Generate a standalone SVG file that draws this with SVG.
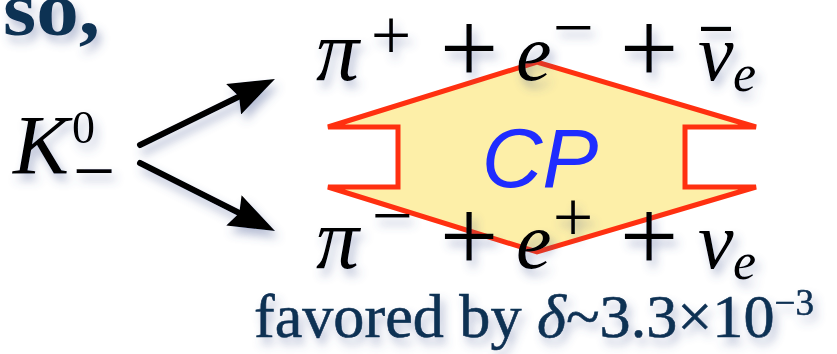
<svg xmlns="http://www.w3.org/2000/svg" width="837" height="354" viewBox="0 0 837 354">
<defs>
<filter id="sh" x="-20%" y="-30%" width="150%" height="170%">
<feGaussianBlur in="SourceAlpha" stdDeviation="5"/>
<feOffset dx="4" dy="7" result="b"/>
<feFlood flood-color="#4a5c94" flood-opacity="0.4"/>
<feComposite in2="b" operator="in"/>
<feMerge><feMergeNode/><feMergeNode in="SourceGraphic"/></feMerge>
</filter>
<marker id="ah" viewBox="0 0 46 34" refX="21" refY="17" markerWidth="46" markerHeight="34" markerUnits="userSpaceOnUse" orient="auto">
<path d="M0,0 L46,17 L0,34 L6,17 z" fill="#000"/>
</marker>
</defs>
<style>
.m{font-family:"Liberation Serif",serif;fill:#000}
.i{font-style:italic}
.op{text-anchor:middle}
.navy{font-family:"Liberation Serif",serif;fill:#0b3053}
.arr{stroke:#000;stroke-width:6;stroke-linecap:round;fill:none}
</style>
<rect width="837" height="354" fill="#fff"/>
<text class="navy" x="3" y="35" font-size="78" font-weight="bold" textLength="97" lengthAdjust="spacingAndGlyphs" filter="url(#sh)">so,</text>
<g id="kaon" filter="url(#sh)">
<text class="m i" x="13" y="174" font-size="84">K</text>
<text class="m" x="72" y="143" font-size="46">0</text>
<text class="m op" x="94" y="196" font-size="75">−</text>
</g>
<g id="connectors" filter="url(#sh)">
<line class="arr" x1="140" y1="145" x2="252.5" y2="90" marker-end="url(#ah)"/>
<line class="arr" x1="140" y1="163" x2="252.7" y2="219.8" marker-end="url(#ah)"/>
</g>
<g id="cp">
<polygon points="328,127 537,62 756,127 685,127 685,187 756,187 537,252 328,187 398,187 398,127" fill="#fdefa8" stroke="#ff3010" stroke-width="5" stroke-linejoin="miter"/>
<text x="540" y="187" font-family="Liberation Sans, Arial, sans-serif" font-style="italic" font-size="84" fill="#1f2cff" text-anchor="middle">CP</text>
</g>
<g id="decay-top" filter="url(#sh)">
<text class="m i" x="316" y="80" font-size="86">π</text>
<text class="m op" x="391" y="59" font-size="72">+</text>
<text class="m op" x="469" y="83" font-size="104">+</text>
<text class="m i" x="516" y="80" font-size="80">e</text>
<text class="m op" x="573" y="52" font-size="73">−</text>
<text class="m op" x="649" y="83" font-size="104">+</text>
<text class="m i" x="698" y="80" font-size="80">ν</text>
<text class="m op" x="716" y="70" font-size="58" font-weight="bold">¯</text>
<text class="m i" x="733" y="91" font-size="52">e</text>
</g>
<g id="decay-bottom" filter="url(#sh)">
<text class="m i" x="316" y="268" font-size="86">π</text>
<text class="m op" x="392" y="240" font-size="73">−</text>
<text class="m op" x="469" y="271" font-size="104">+</text>
<text class="m i" x="516" y="268" font-size="80">e</text>
<text class="m op" x="573" y="241" font-size="72">+</text>
<text class="m op" x="649" y="271" font-size="104">+</text>
<text class="m i" x="698" y="268" font-size="80">ν</text>
<text class="m i" x="733" y="279" font-size="52">e</text>
</g>
<text class="navy" x="254" y="337" font-size="62" stroke="#0b3053" stroke-width="0.6" textLength="560" lengthAdjust="spacingAndGlyphs" filter="url(#sh)">favored by <tspan font-style="italic">δ</tspan>~3.3×10<tspan font-size="37" dy="-22">−3</tspan></text>
</svg>
